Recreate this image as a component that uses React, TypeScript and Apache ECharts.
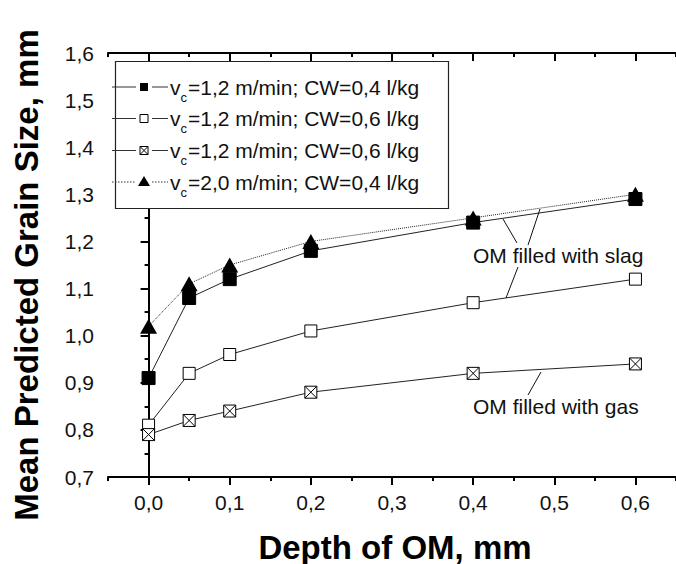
import React, { useEffect, useRef } from "react";
import * as echarts from "echarts";

const depths = [0, 0.05, 0.1, 0.2, 0.4, 0.6];
const slagCW04 = [0.91, 1.08, 1.12, 1.18, 1.24, 1.29];
const slagCW06 = [0.81, 0.92, 0.96, 1.01, 1.07, 1.12];
const gasCW06 = [0.79, 0.82, 0.84, 0.88, 0.92, 0.94];
const fastCW04 = [1.02, 1.11, 1.15, 1.2, 1.25, 1.3];
const xMajorTicks = [0, 0.1, 0.2, 0.3, 0.4, 0.5, 0.6];
const xMinorTicks = [-0.05, 0.05, 0.15, 0.25, 0.35, 0.45, 0.55, 0.65];
const legendSpeeds = ["1,2", "1,2", "1,2", "2,0"];
const legendCW = ["0,4", "0,6", "0,6", "0,4"];
const xTitle = "Depth of OM, mm";
const yTitle = "Mean Predicted Grain Size, mm";
const noteSlag = "OM filled with slag";
const noteGas = "OM filled with gas";

const FONT = "'Liberation Sans', Arial, Helvetica, sans-serif";
const fmt = (v: number) => v.toFixed(1).replace(".", ",");
const pairs = (ys: number[]) => depths.map((x, i) => [x, ys[i]]);

export default function App() {
  const ref = useRef<HTMLDivElement>(null);
  useEffect(() => {
    if (!ref.current) return;
    const chart = echarts.init(ref.current, null, { renderer: "svg" });
    const axisLine = { show: true, lineStyle: { color: "#000", width: 2 } };
    const baseX = {
      type: "value",
      min: -0.05,
      max: 0.65,
      splitLine: { show: false },
    };
    const lineStyle = { color: "#222", width: 1 };

    const legendRows = [87, 118.5, 150.5, 182];
    const graphics: any[] = [];
    graphics.push({
      type: "rect",
      shape: { x: 115.5, y: 61.5, width: 333, height: 147 },
      style: { fill: "#fff", stroke: "#222", lineWidth: 1.2 },
      z: 10,
    });
    legendRows.forEach((y, i) => {
      const dash = i === 3 ? [1.5, 1.5] : null;
      graphics.push({
        type: "line",
        shape: { x1: 112, y1: y, x2: 136, y2: y },
        style: { stroke: "#333", lineWidth: 1, lineDash: dash },
        z: 11,
      });
      graphics.push({
        type: "line",
        shape: { x1: 152, y1: y, x2: 168, y2: y },
        style: { stroke: "#333", lineWidth: 1, lineDash: dash },
        z: 11,
      });
      if (i === 0) {
        graphics.push({ type: "rect", shape: { x: 140, y: y - 4, width: 8, height: 8 }, style: { fill: "#000" }, z: 11 });
      } else if (i === 1 || i === 2) {
        graphics.push({ type: "rect", shape: { x: 140, y: y - 4, width: 8, height: 8 }, style: { fill: "#fff", stroke: "#000", lineWidth: 1 }, z: 11 });
        if (i === 2) {
          graphics.push({ type: "line", shape: { x1: 140, y1: y - 4, x2: 148, y2: y + 4 }, style: { stroke: "#000", lineWidth: 1 }, z: 11 });
          graphics.push({ type: "line", shape: { x1: 148, y1: y - 4, x2: 140, y2: y + 4 }, style: { stroke: "#000", lineWidth: 1 }, z: 11 });
        }
      } else {
        graphics.push({ type: "polygon", shape: { points: [[144, y - 6], [150, y + 4], [138, y + 4]] }, style: { fill: "#000" }, z: 11 });
      }
      graphics.push({
        type: "text",
        x: 170,
        y,
        style: { text: "v", font: `21px ${FONT}`, fill: "#111", verticalAlign: "middle" },
        z: 11,
      });
      graphics.push({
        type: "text",
        x: 180.5,
        y: y + 10,
        style: { text: "c", font: `13px ${FONT}`, fill: "#111", verticalAlign: "middle" },
        z: 11,
      });
      graphics.push({
        type: "text",
        x: 188,
        y,
        style: {
          text: `=${legendSpeeds[i]} m/min; CW=${legendCW[i]} l/kg`,
          font: `21px ${FONT}`,
          fill: "#111",
          verticalAlign: "middle",
        },
        z: 11,
      });
    });
    const lead = (x1: number, y1: number, x2: number, y2: number) => ({
      type: "line",
      shape: { x1, y1, x2, y2 },
      style: { stroke: "#111", lineWidth: 1 },
      z: 9,
    });
    graphics.push(lead(503, 219, 517, 243));
    graphics.push(lead(540, 209, 528, 245));
    graphics.push(lead(518, 267, 506, 298));
    graphics.push(lead(541, 372, 528, 395));
    graphics.push({
      type: "text",
      x: 473,
      y: 255,
      style: { text: noteSlag, font: `21px ${FONT}`, fill: "#111", verticalAlign: "middle" },
      z: 9,
    });
    graphics.push({
      type: "text",
      x: 473,
      y: 406,
      style: { text: noteGas, font: `21px ${FONT}`, fill: "#111", verticalAlign: "middle" },
      z: 9,
    });
    graphics.push({
      type: "text",
      x: 395,
      y: 547,
      style: { text: xTitle, font: `bold 33px ${FONT}`, fill: "#000", align: "center", verticalAlign: "middle" },
    });
    graphics.push({
      type: "text",
      x: 26,
      y: 275,
      rotation: Math.PI / 2,
      style: { text: yTitle, font: `bold 33px ${FONT}`, fill: "#000", align: "center", verticalAlign: "middle" },
    });

    const option: any = {
      animation: false,
      backgroundColor: "#fff",
      grid: { left: 108, top: 53, width: 574, height: 424, containLabel: false },
      xAxis: [
        {
          ...baseX,
          position: "bottom",
          axisLine,
          axisTick: { show: true, inside: false, length: 8, customValues: xMajorTicks, lineStyle: { color: "#000", width: 2 } },
          axisLabel: {
            show: true,
            customValues: xMajorTicks,
            formatter: fmt,
            margin: 15,
            color: "#111",
            fontSize: 21,
            fontFamily: FONT,
          },
        },
        {
          ...baseX,
          position: "bottom",
          axisLine: { show: false },
          axisTick: { show: true, inside: false, length: 4, customValues: xMinorTicks, lineStyle: { color: "#000", width: 2 } },
          axisLabel: { show: false },
        },
        {
          ...baseX,
          position: "top",
          axisLine,
          axisTick: { show: true, inside: true, length: 8, customValues: xMajorTicks, lineStyle: { color: "#000", width: 2 } },
          axisLabel: { show: false },
        },
        {
          ...baseX,
          position: "top",
          axisLine: { show: false },
          axisTick: { show: true, inside: true, length: 4, customValues: xMinorTicks, lineStyle: { color: "#000", width: 2 } },
          axisLabel: { show: false },
        },
      ],
      yAxis: {
        type: "value",
        min: 0.7,
        max: 1.6,
        interval: 0.1,
        axisLine,
        splitLine: { show: false },
        axisTick: { show: true, inside: false, length: 8, lineStyle: { color: "#000", width: 2 } },
        minorTick: { show: true, splitNumber: 2, length: 4, lineStyle: { color: "#000", width: 2 } },
        axisLabel: { formatter: fmt, margin: 14, color: "#111", fontSize: 21, fontFamily: FONT },
      },
      series: [
        {
          id: "s1",
          name: "vc=1,2 m/min; CW=0,4 l/kg (slag)",
          type: "line",
          data: pairs(slagCW04),
          symbol: "rect",
          symbolSize: 13,
          lineStyle,
          itemStyle: { color: "#000", borderColor: "#000", borderWidth: 1 },
          z: 3,
        },
        {
          id: "s2",
          name: "vc=1,2 m/min; CW=0,6 l/kg (slag)",
          type: "line",
          data: pairs(slagCW06),
          symbol: "rect",
          symbolSize: 12,
          lineStyle,
          itemStyle: { color: "#fff", borderColor: "#000", borderWidth: 1 },
          z: 3,
        },
        {
          id: "s3",
          name: "vc=1,2 m/min; CW=0,6 l/kg (gas)",
          type: "line",
          data: pairs(gasCW06),
          symbol: "path://M0,0L10,0L10,10L0,10Z M0,0L10,10 M10,0L0,10",
          symbolSize: 12,
          lineStyle,
          itemStyle: { color: "#fff", borderColor: "#000", borderWidth: 1 },
          z: 3,
        },
        {
          id: "s4",
          name: "vc=2,0 m/min; CW=0,4 l/kg",
          type: "line",
          data: pairs(fastCW04),
          symbol: "triangle",
          symbolSize: [17, 15],
          lineStyle: { color: "#222", width: 1, type: "dotted" },
          itemStyle: { color: "#000", borderColor: "#000", borderWidth: 0 },
          z: 4,
        },
      ],
      graphic: graphics,
    };
    chart.setOption(option);
    return () => chart.dispose();
  }, []);
  return (
    <div
      ref={ref}
      style={{ position: "fixed", left: 0, top: 0, width: 676, height: 564, background: "#fff" }}
    />
  );
}
